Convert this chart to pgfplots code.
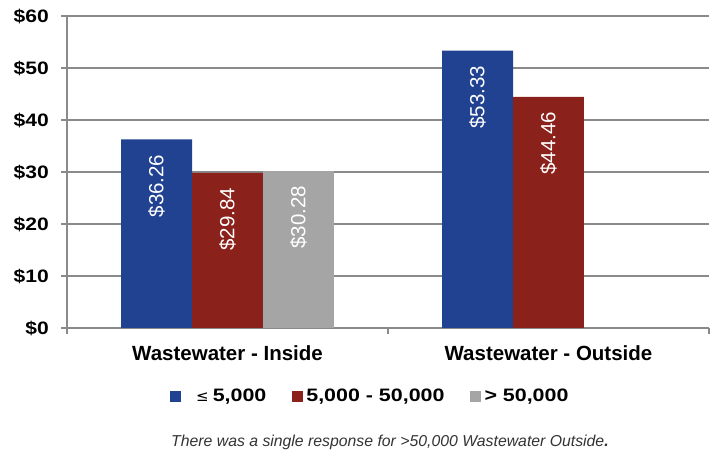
\documentclass[border=0pt]{standalone}
\usepackage{pgfplots}
\pgfplotsset{compat=1.18}
\usepackage{fontspec}
\setmainfont{Liberation Sans}
\newfontfamily\tickfont[FakeStretch=1.17]{Liberation Sans}
\newfontfamily\legfont[FakeStretch=1.19]{Liberation Sans}
\newfontfamily\dejavu{DejaVu Sans}
\definecolor{cblue}{RGB}{33,65,145}
\definecolor{cred}{RGB}{139,33,27}
\definecolor{cgray}{RGB}{165,165,165}
\definecolor{gridgray}{RGB}{138,138,138}
\begin{document}
\begin{tikzpicture}
\useasboundingbox (0,0) rectangle (715bp,450bp);
\begin{axis}[
  at={(67bp,122bp)}, anchor=south west,
  scale only axis, width=642bp, height=312bp,
  xmin=-0.5, xmax=1.5, ymin=0, ymax=60,
  clip=false,
  /pgf/number format/assume math mode=true,
  axis lines*=left,
  axis line style={gridgray, line width=1.3bp},
  x axis line style={line width=2bp},
  ymajorgrids, grid style={gridgray, line width=1.3bp},
  tick align=outside,
  major tick length=6bp, minor tick length=6bp,
  tick style={gridgray, line width=1.3bp},
  ytick={0,10,20,30,40,50,60},
  yticklabels={\$0,\$10,\$20,\$30,\$40,\$50,\$60},
  yticklabel style={font=\tickfont\bfseries\fontsize{18bp}{20bp}\selectfont, black, inner sep=2bp, xshift=-10bp},
  xtick={0,1},
  xticklabels={Wastewater - Inside, Wastewater - Outside},
  xticklabel style={font=\bfseries\fontsize{20.5bp}{22bp}\selectfont, black, yshift=-8bp},
  major x tick style={draw=none},
  minor xtick={-0.5,0.5,1.5},
  ybar, bar width=0.221,
  nodes near coords={\$\pgfmathprintnumber[fixed,fixed zerofill,precision=2]{\pgfplotspointmeta}},
  every node near coord/.append style={white, font=\fontsize{20.5bp}{22bp}\selectfont, rotate=90, anchor=east, inner xsep=15bp, inner ysep=0bp},
  legend style={at={(axis description cs:0.155,-0.218)}, anchor=west, draw=none, fill=none,
    legend columns=3, font=\legfont\bfseries\fontsize{18bp}{20bp}\selectfont,
    nodes={inner xsep=3.5bp},
    /tikz/every even column/.append style={column sep=22bp}},
  legend image code/.code={\fill[#1,draw=none] (0bp,-5.5bp) rectangle (11bp,5.5bp);},
]
\addplot[fill=cblue, draw=none, bar shift=-0.221] coordinates {(0,36.26) (1,53.33)};
\addplot[fill=cred, draw=none, bar shift=0] coordinates {(0,29.84) (1,44.46)};
\addplot[fill=cgray, draw=none, bar shift=0.221] coordinates {(0,30.28)};
\legend{{\hspace{12bp}{\mdseries\dejavu\fontsize{15bp}{18bp}\selectfont ≤}\hspace{4bp}5,000},{5,000 - 50,000},{> 50,000}}
\end{axis}
\node[anchor=base west, inner sep=0, font=\itshape\fontsize{15.8bp}{18bp}\selectfont, text=black!80] at (171bp,4bp) {There was a single response for >50,000 Wastewater Outside\textbf{.}};
\end{tikzpicture}
\end{document}
